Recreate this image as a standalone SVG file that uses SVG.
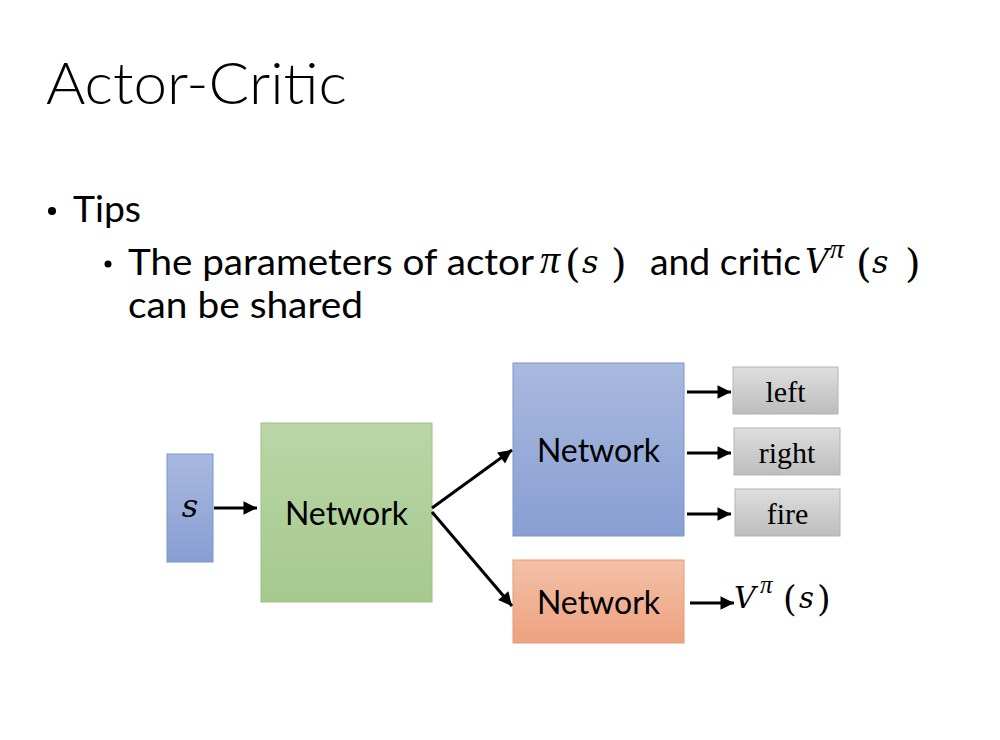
<svg xmlns="http://www.w3.org/2000/svg" width="1000" height="740" viewBox="0 0 1000 740">
<defs>
<linearGradient id="gBlue" x1="0" y1="0" x2="0" y2="1"><stop offset="0" stop-color="#a9b9df"/><stop offset="1" stop-color="#889fd3"/></linearGradient>
<linearGradient id="gGreen" x1="0" y1="0" x2="0" y2="1"><stop offset="0" stop-color="#bad6a8"/><stop offset="1" stop-color="#a5c98d"/></linearGradient>
<linearGradient id="gOrange" x1="0" y1="0" x2="0" y2="1"><stop offset="0" stop-color="#f3c0a6"/><stop offset="1" stop-color="#eea281"/></linearGradient>
<linearGradient id="gGray" x1="0" y1="0" x2="0" y2="1"><stop offset="0" stop-color="#dedede"/><stop offset="1" stop-color="#bdbdbd"/></linearGradient>
<marker id="ah" viewBox="0 0 10 10" refX="10" refY="5" markerWidth="5" markerHeight="4.5" orient="auto" markerUnits="strokeWidth"><path d="M0,0 L10,5 L0,10 z" fill="#000"/></marker>
</defs>
<style>
.sans{font-family:Lato,"Open Sans","Liberation Sans",sans-serif;fill:#000}
.math{font-family:"DejaVu Serif","Liberation Serif",serif;font-style:italic;fill:#000}
.pi{font-family:"Liberation Serif","DejaVu Serif",serif;font-style:italic;fill:#000}
.up{font-style:normal}
.serif{font-family:"Liberation Serif",serif;fill:#000;font-size:30px}
.net{font-family:Lato,"Open Sans","Liberation Sans",sans-serif;font-size:32px;fill:#000}
.conn line{stroke:#000;stroke-width:3;marker-end:url(#ah)}
</style>
<rect width="1000" height="740" fill="#fff"/>
<text class="sans" x="46" y="104" font-size="58" font-weight="300" textLength="301" lengthAdjust="spacingAndGlyphs">Actor-Critic</text>
<circle cx="52" cy="211" r="4" fill="#000"/>
<text class="sans" x="73" y="222" font-size="37" textLength="68" lengthAdjust="spacingAndGlyphs">Tips</text>
<circle cx="108" cy="264" r="3.5" fill="#000"/>
<text class="sans" x="128" y="275" font-size="36" textLength="406" lengthAdjust="spacingAndGlyphs">The parameters of actor</text>
<text class="pi" x="540" y="273" font-size="40">π</text>
<text class="math up" x="565" y="277" font-size="40">(</text>
<text class="math" x="582" y="273" font-size="32">s</text>
<text class="math up" x="611" y="277" font-size="40">)</text>
<text class="sans" x="650" y="275" font-size="36" textLength="151" lengthAdjust="spacingAndGlyphs">and critic</text>
<text class="math" x="805" y="273" font-size="33">V</text>
<text class="pi" x="830" y="258" font-size="28">π</text>
<text class="math up" x="856" y="277" font-size="40">(</text>
<text class="math" x="872" y="273" font-size="32">s</text>
<text class="math up" x="905" y="277" font-size="40">)</text>
<text class="sans" x="128" y="318" font-size="36" textLength="235" lengthAdjust="spacingAndGlyphs">can be shared</text>

<g id="node-s"><rect x="167" y="454" width="46" height="108" fill="url(#gBlue)" stroke="#7d95cb" stroke-width="1"/><text class="math" x="190" y="517" font-size="32" text-anchor="middle">s</text></g>
<g id="node-shared"><rect x="261" y="423" width="171" height="179" fill="url(#gGreen)" stroke="#9cc287" stroke-width="1"/><text class="net" x="346.5" y="525" text-anchor="middle">Network</text></g>
<g id="node-actor"><rect x="513" y="363" width="171" height="173" fill="url(#gBlue)" stroke="#7d95cb" stroke-width="1"/><text class="net" x="598.5" y="462" text-anchor="middle">Network</text></g>
<g id="node-critic"><rect x="513" y="560" width="171" height="83" fill="url(#gOrange)" stroke="#e69a78" stroke-width="1"/><text class="net" x="598.5" y="614" text-anchor="middle">Network</text></g>
<g id="node-left"><rect x="733" y="367" width="105" height="47" fill="url(#gGray)" stroke="#b3b3b3" stroke-width="1"/><text class="serif" x="785.5" y="402" text-anchor="middle">left</text></g>
<g id="node-right"><rect x="734" y="428" width="106" height="47" fill="url(#gGray)" stroke="#b3b3b3" stroke-width="1"/><text class="serif" x="787" y="463" text-anchor="middle">right</text></g>
<g id="node-fire"><rect x="735" y="489" width="105" height="47" fill="url(#gGray)" stroke="#b3b3b3" stroke-width="1"/><text class="serif" x="787.5" y="524" text-anchor="middle">fire</text></g>
<g id="node-v"><text class="math" x="734" y="608" font-size="30">V</text><text class="pi" x="760" y="593" font-size="25">π</text><text class="math up" x="783" y="611" font-size="35">(</text><text class="math" x="799" y="608" font-size="29">s</text><text class="math up" x="817" y="611" font-size="35">)</text></g>

<g class="conn" id="connectors">
<line x1="214" y1="508" x2="257" y2="508"/>
<line x1="432" y1="508" x2="512" y2="450"/>
<line x1="432" y1="512" x2="512" y2="606"/>
<line x1="687" y1="392" x2="731" y2="392"/>
<line x1="687" y1="453" x2="731" y2="453"/>
<line x1="687" y1="514" x2="731" y2="514"/>
<line x1="690" y1="603" x2="734" y2="603"/>
</g>
</svg>
